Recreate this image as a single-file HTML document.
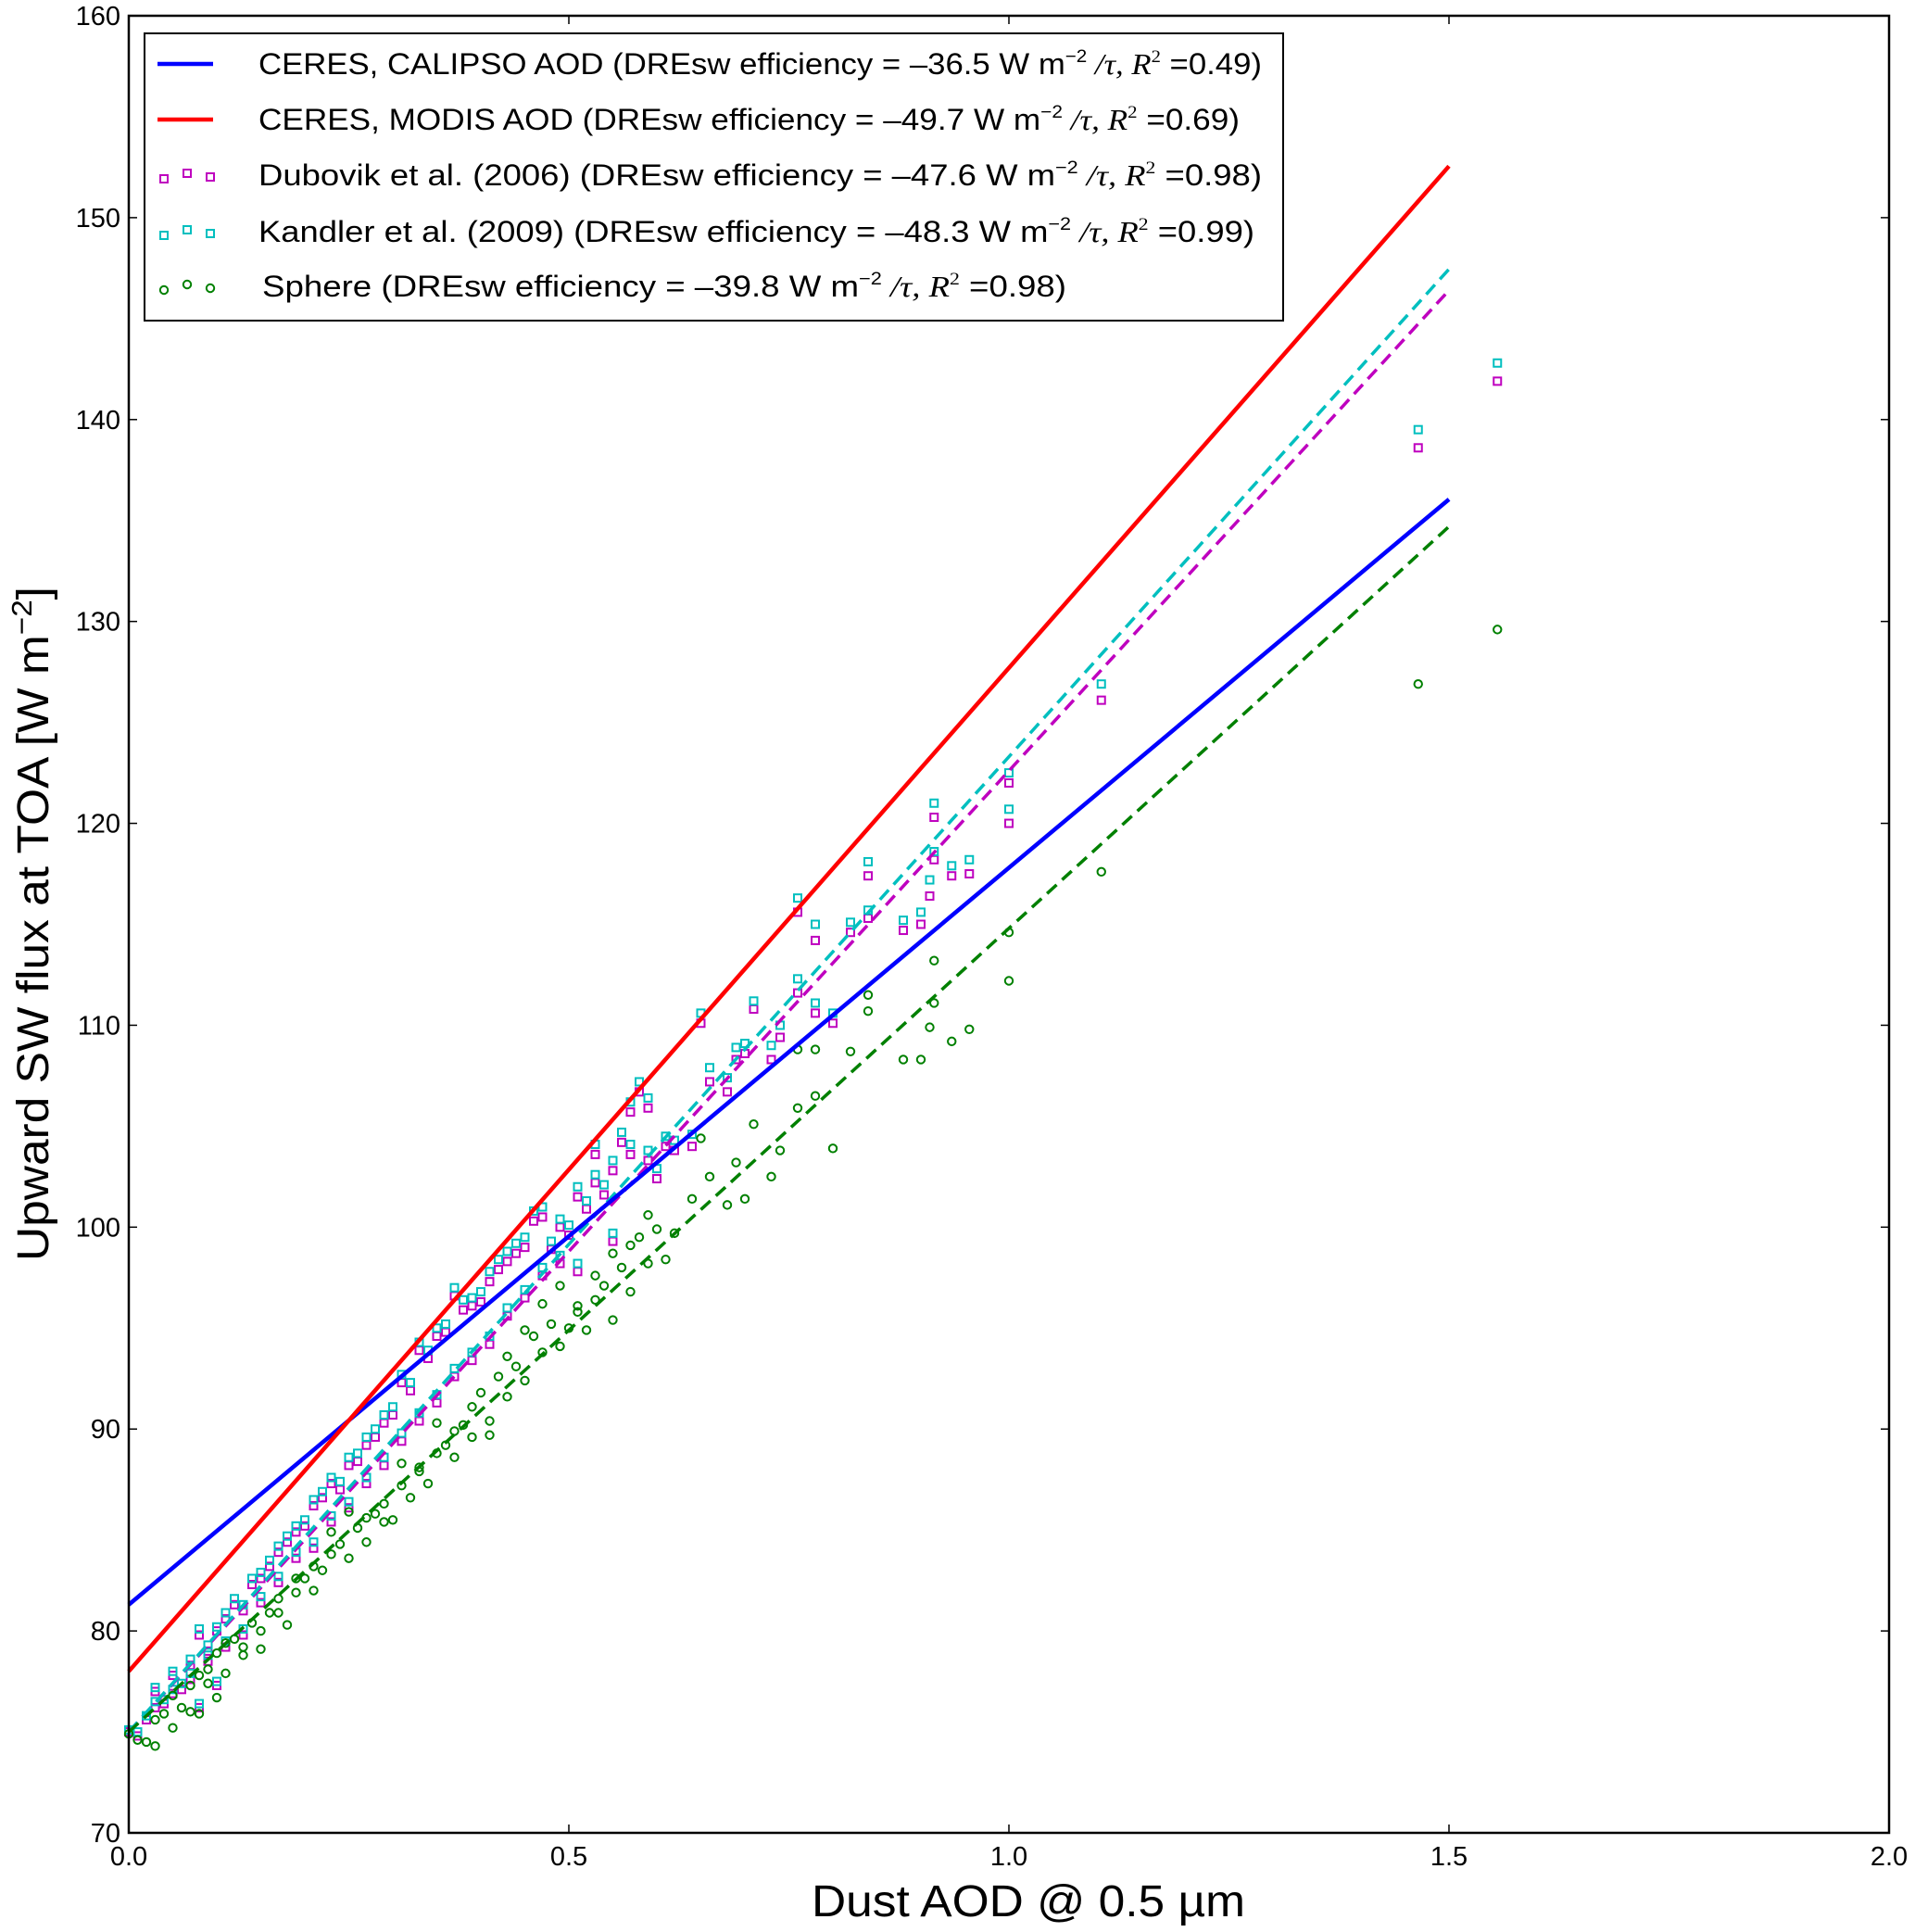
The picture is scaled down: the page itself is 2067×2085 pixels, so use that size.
<!DOCTYPE html>
<html><head><meta charset="utf-8"><style>
html,body{margin:0;padding:0;background:#fff;}
svg{display:block;font-family:"Liberation Sans",sans-serif;}
</style></head>
<body>
<svg id="chart" width="2067" height="2085" viewBox="0 0 2067 2085" xmlns="http://www.w3.org/2000/svg">
<rect x="0" y="0" width="2067" height="2085" fill="#fff"/>
<g id="marks"></g>
<g id="axes"></g>
<text x="1110" y="2068" font-size="48" text-anchor="middle" textLength="468" lengthAdjust="spacingAndGlyphs">Dust AOD @ 0.5 µm</text>
<text transform="translate(52,997) rotate(-90)" font-size="48" text-anchor="middle" textLength="728" lengthAdjust="spacingAndGlyphs">Upward SW flux at TOA [W m<tspan font-size="31" dy="-18">−2</tspan><tspan dy="18">]</tspan></text>
<g id="legend"></g>
</svg>
<script>
const xTicks = [0.0, 0.5, 1.0, 1.5, 2.0];
const xTickLabels = ["0.0", "0.5", "1.0", "1.5", "2.0"];
const yTicks = [70, 80, 90, 100, 110, 120, 130, 140, 150, 160];
const yTickLabels = ["70", "80", "90", "100", "110", "120", "130", "140", "150", "160"];

const aodX = [0.00,0.01,0.02,0.03,0.03,0.04,0.05,0.06,0.07,0.08,0.08,0.09,0.10,0.10,0.11,0.12,0.13,0.14,0.15,0.16,0.17,0.18,0.19,0.20,0.21,0.22,0.23,0.24,0.25,0.26,0.27,0.28,0.29,0.30,0.31,0.32,0.33,0.34,0.35,0.36,0.37,0.38,0.39,0.40,0.41,0.42,0.43,0.44,0.45,0.46,0.47,0.48,0.49,0.50,0.51,0.52,0.53,0.54,0.55,0.56,0.57,0.58,0.59,0.60,0.61,0.62,0.64,0.65,0.66,0.68,0.69,0.70,0.71,0.73,0.74,0.76,0.76,0.78,0.78,0.80,0.82,0.84,0.84,0.88,0.90,0.91,0.915,0.915,0.935,0.955,1.00,1.00,1.105,1.465,1.555,
0.05,0.07,0.09,0.11,0.13,0.15,0.17,0.19,0.21,0.23,0.25,0.27,0.29,0.31,0.33,0.35,0.37,0.39,0.41,0.43,0.45,0.47,0.49,0.51,0.53,0.55,0.57,0.59];
const dubovikY = [75.0,74.8,75.6,76.2,77.0,76.4,77.8,77.1,78.3,76.2,79.8,79.0,77.3,80.0,80.6,81.3,79.8,82.3,81.4,83.2,82.4,84.4,83.6,85.2,84.1,86.6,85.4,87.0,86.1,88.4,87.3,89.6,88.2,90.7,89.4,91.9,90.4,93.5,91.3,94.8,92.6,95.9,93.4,96.3,94.2,97.9,95.6,98.7,96.5,100.3,97.6,98.9,98.2,99.6,97.8,100.9,103.6,101.6,99.3,104.2,105.7,106.7,103.3,102.4,104.0,103.8,104.0,110.1,107.2,106.7,108.3,108.6,110.8,108.3,109.4,115.6,111.6,110.6,114.2,110.1,114.6,117.4,115.3,114.7,115.0,116.4,120.3,118.2,117.4,117.5,122.0,120.0,126.1,138.6,141.9,
76.9,77.6,78.5,79.2,81.0,82.6,83.9,84.9,86.2,87.3,88.2,89.2,90.3,92.3,93.9,94.6,96.6,96.1,97.3,98.3,99.0,100.5,100.0,101.5,102.2,102.8,103.6,105.9];
const kandlerY = [75.1,75.0,75.8,76.5,77.2,76.6,78.0,77.4,78.6,76.4,80.1,79.3,77.5,80.2,80.9,81.6,80.1,82.6,81.7,83.5,82.7,84.7,83.9,85.5,84.4,86.9,85.7,87.4,86.4,88.8,87.6,90.0,88.6,91.1,89.8,92.3,90.8,93.9,91.7,95.2,93.0,96.4,93.8,96.8,94.6,98.4,96.0,99.2,96.9,100.8,98.0,99.3,98.6,100.1,98.2,101.3,104.1,102.1,99.7,104.7,106.2,107.2,103.8,102.9,104.5,104.3,104.6,110.6,107.9,107.4,108.9,109.1,111.2,109.0,110.0,116.3,112.3,111.1,115.0,110.6,115.1,118.1,115.7,115.2,115.6,117.2,121.0,118.6,117.9,118.2,122.5,120.7,126.9,139.5,142.8,
77.1,77.9,78.8,79.5,81.3,82.9,84.2,85.2,86.5,87.6,88.6,89.6,90.7,92.7,94.3,95.0,97.0,96.5,97.8,98.8,99.5,101.0,100.4,102.0,102.6,103.3,104.1,106.4];
const sphereY = [74.9,74.6,74.5,74.3,75.6,75.9,76.8,76.2,77.3,75.9,77.8,78.1,76.7,78.9,79.4,79.6,78.8,80.4,79.1,80.9,81.6,80.3,81.9,82.6,82.0,83.0,83.8,84.3,83.6,85.1,84.4,85.8,86.3,85.5,87.2,86.6,88.1,87.3,88.8,89.2,88.6,90.2,89.6,91.8,90.4,92.6,91.6,93.1,92.4,94.6,93.8,95.2,94.1,95.0,96.1,94.9,96.4,97.1,95.4,98.0,96.8,99.5,98.2,99.9,98.4,99.7,101.4,104.4,102.5,101.1,103.2,101.4,105.1,102.5,103.8,105.9,108.8,108.8,106.5,103.9,108.7,111.5,110.7,108.3,108.3,109.9,113.2,111.1,109.2,109.8,114.6,112.2,117.6,126.9,129.6,
75.2,76.0,77.4,77.9,79.2,80.0,80.9,82.6,83.2,84.9,85.9,85.6,85.4,88.3,87.9,90.3,89.9,91.1,89.7,93.6,94.9,96.2,97.1,95.8,97.6,98.7,99.1,100.6];

const fitNames = ["ceres-calipso", "ceres-modis", "dubovik-fit", "kandler-fit", "sphere-fit"];
const fitIntercept = [81.3, 78.0, 75.0, 75.0, 75.0];
const fitSlope = [36.5, 49.7, 47.6, 48.3, 39.8];
const fitXEnd = [1.5, 1.5, 1.5, 1.5, 1.5];

const NS = "http://www.w3.org/2000/svg";
const L = 139, R = 2039, T = 17, B = 1978;
const xMin = 0, xMax = 2, yMin = 70, yMax = 160;
function sx(v){ return L + (v - xMin) / (xMax - xMin) * (R - L); }
function sy(v){ return B - (v - yMin) / (yMax - yMin) * (B - T); }
function mk(tag, attrs, parent){
  const e = document.createElementNS(NS, tag);
  for (const k in attrs) e.setAttribute(k, attrs[k]);
  parent.appendChild(e);
  return e;
}
const marks = document.getElementById("marks");
const axes = document.getElementById("axes");
const legend = document.getElementById("legend");

const cols = {dub:"#bf00bf", kan:"#00bfbf", sph:"#008000"};
function squares(ys, color, name){
  const g = mk("g", {}, marks);
  
  
  for (let i = 0; i < aodX.length; i++){
    const r = mk("rect", {x: sx(aodX[i]) - 4, y: sy(ys[i]) - 4, width: 8, height: 8, fill: "none", stroke: color, "stroke-width": 2}, g);
    
    
  }
}
squares(dubovikY, cols.dub, "dubovik");
squares(kandlerY, cols.kan, "kandler");
const gs = mk("g", {}, marks);


for (let i = 0; i < aodX.length; i++){
  const c = mk("circle", {cx: sx(aodX[i]), cy: sy(sphereY[i]), r: 4.2, fill: "none", stroke: cols.sph, "stroke-width": 2}, gs);
  
  
}

const fitColors = ["#0000ff", "#ff0000", "#bf00bf", "#00bfbf", "#008000"];
const fitDash = [null, null, "14,8", "14,8", "14,8"];
const order = [2, 3, 4, 0, 1];
for (const i of order){
  const a = {x1: sx(0), y1: sy(fitIntercept[i]), x2: sx(fitXEnd[i]), y2: sy(fitIntercept[i] + fitSlope[i] * fitXEnd[i]), stroke: fitColors[i], "stroke-width": fitDash[i] ? 3.5 : 4.5};
  if (fitDash[i]) a["stroke-dasharray"] = fitDash[i];
  const ln = mk("line", a, marks);
  
  
}

const frame = mk("rect", {x: L, y: T, width: R - L, height: B - T, fill: "none", stroke: "#000", "stroke-width": 2.5}, axes);


for (let i = 0; i < xTicks.length; i++){
  const x = sx(xTicks[i]);
  mk("line", {x1: x, y1: B, x2: x, y2: B - 9, stroke: "#000", "stroke-width": 1.5}, axes);
  mk("line", {x1: x, y1: T, x2: x, y2: T + 9, stroke: "#000", "stroke-width": 1.5}, axes);
  const t = mk("text", {x: x, y: B + 35, "font-size": 29, "text-anchor": "middle"}, axes);
  t.textContent = xTickLabels[i];
  
  
}
for (let i = 0; i < yTicks.length; i++){
  const y = sy(yTicks[i]);
  mk("line", {x1: L, y1: y, x2: L + 9, y2: y, stroke: "#000", "stroke-width": 1.5}, axes);
  mk("line", {x1: R, y1: y, x2: R - 9, y2: y, stroke: "#000", "stroke-width": 1.5}, axes);
  const t = mk("text", {x: L - 9, y: y + 10, "font-size": 29, "text-anchor": "end"}, axes);
  t.textContent = yTickLabels[i];
  
  
}

const lb = mk("rect", {x: 156, y: 36, width: 1229, height: 310, fill: "#fff", stroke: "#000", "stroke-width": 2}, legend);


const legendRows = [
  {pre: "CERES, CALIPSO AOD (DREsw efficiency = –36.5 W m", mid: " /τ, ", post: " =0.49)", kind: "line", color: "#0000ff", name: "legend-entry-calipso", w: 1083},
  {pre: "CERES, MODIS AOD (DREsw efficiency = –49.7 W m", mid: " /τ, ", post: " =0.69)", kind: "line", color: "#ff0000", name: "legend-entry-modis", w: 1059},
  {pre: "Dubovik et al. (2006) (DREsw efficiency = –47.6 W m", mid: " /τ, ", post: " =0.98)", kind: "sq", color: "#bf00bf", name: "legend-entry-dubovik", w: 1083},
  {pre: "Kandler et al. (2009) (DREsw efficiency = –48.3 W m", mid: " /τ, ", post: " =0.99)", kind: "sq", color: "#00bfbf", name: "legend-entry-kandler", w: 1075},
  {pre: "Sphere (DREsw efficiency = –39.8 W m", mid: " /τ, ", post: " =0.98)", kind: "ci", color: "#008000", name: "legend-entry-sphere", w: 868}
];
const rowY = [69, 129, 189, 250, 309];
const mOff = [[177, 4], [202, -2], [227, 2]];
legendRows.forEach((r, i) => {
  const g = mk("g", {}, legend);
  
  
  const y = rowY[i];
  if (r.kind === "line"){
    mk("line", {x1: 170, y1: y, x2: 230, y2: y, stroke: r.color, "stroke-width": 4.5}, g);
  } else {
    mOff.forEach(o => {
      if (r.kind === "sq") mk("rect", {x: o[0] - 4, y: y + o[1] - 4, width: 8, height: 8, fill: "none", stroke: r.color, "stroke-width": 2}, g);
      else mk("circle", {cx: o[0], cy: y + o[1], r: 4.2, fill: "none", stroke: r.color, "stroke-width": 2}, g);
    });
  }
  const t = mk("text", {x: i === 4 ? 283 : 279, y: y + 11, "font-size": 32, textLength: r.w, lengthAdjust: "spacingAndGlyphs"}, g);
  const a = document.createElementNS(NS, "tspan"); a.textContent = r.pre; t.appendChild(a);
  const b = document.createElementNS(NS, "tspan"); b.setAttribute("font-size", "19"); b.setAttribute("dy", "-13"); b.textContent = "−2"; t.appendChild(b);
  const c = document.createElementNS(NS, "tspan"); c.setAttribute("dy", "13"); c.setAttribute("font-family", "Liberation Serif, serif"); c.setAttribute("font-style", "italic"); c.textContent = r.mid; t.appendChild(c);
  const d = document.createElementNS(NS, "tspan"); d.setAttribute("font-family", "Liberation Serif, serif"); d.setAttribute("font-style", "italic"); d.textContent = "R"; t.appendChild(d);
  const e = document.createElementNS(NS, "tspan"); e.setAttribute("font-size", "19"); e.setAttribute("dy", "-13"); e.setAttribute("font-family", "Liberation Serif, serif"); e.textContent = "2"; t.appendChild(e);
  const f = document.createElementNS(NS, "tspan"); f.setAttribute("dy", "13"); f.textContent = r.post; t.appendChild(f);
});
</script>
</body></html>
